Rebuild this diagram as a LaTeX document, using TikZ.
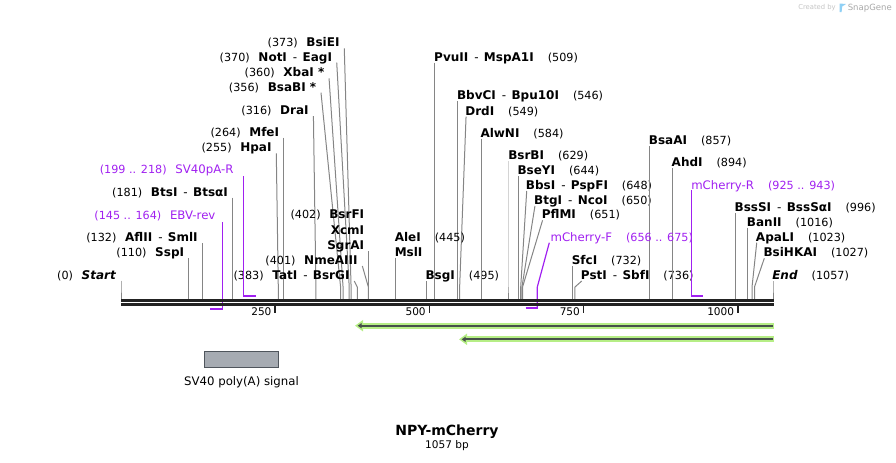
\documentclass[tikz,border=0pt]{standalone}
\usepackage{fontspec}
\setmainfont{DejaVu Sans}
\usetikzlibrary{arrows.meta,positioning}

\definecolor{primer}{HTML}{A020F0}
\definecolor{sitegray}{HTML}{858585}
\definecolor{bbdark}{HTML}{222222}
\definecolor{featgreen}{HTML}{B6EE86}
\definecolor{featdark}{HTML}{46504A}
\definecolor{polyafill}{HTML}{A6ABB2}
\definecolor{polyaedge}{HTML}{4F555C}
\definecolor{credit}{HTML}{C4C4C4}
\definecolor{creditdark}{HTML}{A8A8A8}
\definecolor{logoblue}{HTML}{8FD0F5}

\newcommand{\enz}[1]{\textbf{#1}}
\newcommand{\bploc}[1]{{\fontsize{8.4}{10}\selectfont(#1)}}
\newcommand{\esep}{\hspace{4.5pt}-\hspace{4pt}}
\newcommand{\gapl}{\hspace{6.5pt}}
\newcommand{\gapr}{\hspace{10.5pt}}

\begin{document}
\begin{tikzpicture}[x=0.75pt, y=-0.75pt
	, every node/.style={inner sep=0pt, font=\fontsize{9}{11}\selectfont}
	, siteline/.style={draw=sitegray, line width=0.75pt}
	, primerline/.style={draw=primer, line width=0.9pt}
	, primerbar/.style={draw=primer, line width=1.6pt}
	, primerlbl/.style={text=primer, font=\fontsize{8.8}{10}\selectfont}
	, backbone/.style={draw=bbdark, line width=2pt}
	, tickmark/.style={draw=bbdark, line width=1.1pt}
]
\useasboundingbox (0,0) rectangle (896,462);

% sites with labels on the left
\foreach [count=\i] \b/\dx/\ty/\txt in {
	0/0/274.5/{\bploc{0}\gapl\enz{\textit{Start}}}
	, 110/0/252/{\bploc{110}\gapl\enz{SspI}}
	, 132/0/237/{\bploc{132}\gapl\enz{AflII}\esep\enz{SmlI}}
	, 181/0/191.5/{\bploc{181}\gapl\enz{BtsI}\esep\enz{BtsαI}}
	, 255/-2/147.3/{\bploc{255}\gapl\enz{HpaI}}
	, 264/0/131.7/{\bploc{264}\gapl\enz{MfeI}}
	, 316/-2.5/110/{\bploc{316}\gapl\enz{DraI}}
	, 356/-19.6/86.7/{\bploc{356}\gapl\enz{BsaBI *}}
	, 360/-14/72.3/{\bploc{360}\gapl\enz{XbaI *}}
	, 370/-12.5/56.7/{\bploc{370}\gapl\enz{NotI}\esep\enz{EagI}}
	, 373/-6.8/42.3/{\bploc{373}\gapl\enz{BsiEI}}
	, 383/-3/275/{\bploc{383}\gapl\enz{TatI}\esep\enz{BsrGI}}
	, 401/-6/260/{\bploc{401}\gapl\enz{NmeAIII}}
	, 402/0/245/{\enz{SgrAI}}
}{
	\pgfmathsetmacro\sx{121+\b*0.61684}
	\pgfmathsetmacro\tx{\sx+(\dx)}
	\coordinate (s\i) at (\sx,299);
	\coordinate (t\i) at (\tx,\ty+6);
	\node[anchor=base east](l\i) at ([shift={(-4.5,-1.5)}]t\i) {\txt};
	\draw[siteline] (t\i) -- (\sx,287) -- (s\i);
}
\node[anchor=base east](l14b) at ([yshift=11.5pt]l14.base east) {\enz{XcmI}};
\node[anchor=base east](l14a) at ([yshift=11.5pt]l14b.base east) {\bploc{402}\gapl\enz{BsrFI}};

% sites with labels on the right
\foreach [count=\i] \b/\dx/\ty/\txt in {
	445/0/251.7/{\enz{MslI}}
	, 495/0/275/{\enz{BsgI}\gapr\bploc{495}}
	, 509/0/56.7/{\enz{PvuII}\esep\enz{MspA1I}\gapr\bploc{509}}
	, 546/0/95/{\enz{BbvCI}\esep\enz{Bpu10I}\gapr\bploc{546}}
	, 549/6.4/110.7/{\enz{DrdI}\gapr\bploc{549}}
	, 584/0/132.7/{\enz{AlwNI}\gapr\bploc{584}}
	, 629/0/155/{\enz{BsrBI}\gapr\bploc{629}}
	, 644/0/170/{\enz{BseYI}\gapr\bploc{644}}
	, 648/6/185/{\enz{BbsI}\esep\enz{PspFI}\gapr\bploc{648}}
	, 650/13/200/{\enz{BtgI}\esep\enz{NcoI}\gapr\bploc{650}}
	, 651/20/214.3/{\enz{PflMI}\gapr\bploc{651}}
	, 732/0/260/{\enz{SfcI}\gapr\bploc{732}}
	, 736/6.7/275/{\enz{PstI}\esep\enz{SbfI}\gapr\bploc{736}}
	, 857/0/140/{\enz{BsaAI}\gapr\bploc{857}}
	, 894/0/162.3/{\enz{AhdI}\gapr\bploc{894}}
	, 996/0/207.3/{\enz{BssSI}\esep\enz{BssSαI}\gapr\bploc{996}}
	, 1016/0/221.7/{\enz{BanII}\gapr\bploc{1016}}
	, 1023/4.7/236.7/{\enz{ApaLI}\gapr\bploc{1023}}
	, 1027/9.8/252.3/{\enz{BsiHKAI}\gapr\bploc{1027}}
	, 1057/0/275/{\enz{\textit{End}}\gapr\bploc{1057}}
}{
	\pgfmathsetmacro\sx{121+\b*0.61684}
	\pgfmathsetmacro\tx{\sx+(\dx)}
	\coordinate (rs\i) at (\sx,299);
	\coordinate (rt\i) at (\tx,\ty+6);
	\node[anchor=base west](r\i) at ([shift={(-1,-1.5)}]rt\i) {\txt};
	\draw[siteline] (rt\i) -- (\sx,287) -- (rs\i);
}
\node[anchor=base west](r1a) at ([yshift=10.8pt]r1.base west) {\enz{AleI}\gapr\bploc{445}};

% primers
\coordinate (p1a) at (210.4,309);
\coordinate (p1b) at (222.2,309);
\coordinate (p1t) at (222.2,221.7);
\draw[primerbar] (p1a) -- ([xshift=0.4pt]p1b);
\draw[primerline] (p1b) -- (p1t);
\node[primerlbl, anchor=base east](pl1) at ([shift={(-6.5,-2)}]p1t) {\bploc{145 .. 164}\gapl EBV-rev};

\coordinate (p2a) at (243.7,296);
\coordinate (p2b) at (255.5,296);
\coordinate (p2t) at (243.7,175.7);
\draw[primerbar] ([xshift=-0.4pt]p2a) -- (p2b);
\draw[primerline] (p2a) -- (p2t);
\node[primerlbl, anchor=base east](pl2) at ([shift={(-10,-2)}]p2t) {\bploc{199 .. 218}\gapl SV40pA-R};

\coordinate (p3a) at (525.6,308);
\coordinate (p3b) at (537.3,308);
\coordinate (p3t) at (549.3,242.7);
\draw[primerbar] (p3a) -- ([xshift=0.4pt]p3b);
\draw[primerline] (p3b) -- (537.3,287) -- (p3t);
\node[primerlbl, anchor=base west](pl3) at ([shift={(1,-1.5)}]p3t) {mCherry-F\gapr\bploc{656 .. 675}};

\coordinate (p4a) at (691.5,296);
\coordinate (p4b) at (702.6,296);
\coordinate (p4t) at (691.5,190);
\draw[primerbar] ([xshift=-0.4pt]p4a) -- (p4b);
\draw[primerline] (p4a) -- (p4t);
\node[primerlbl, anchor=base west](pl4) at ([shift={(-0.5,-0.5)}]p4t) {mCherry-R\gapr\bploc{925 .. 943}};

% backbone and ruler
\draw[backbone] (121,300.3) -- (773.5,300.3);
\draw[backbone] (121,304.7) -- (773.5,304.7);
\foreach \t in {250,500,750,1000}{
	\pgfmathsetmacro\kx{121+\t*0.61684}
	\draw[tickmark] (\kx,305.5) -- (\kx,312.8);
	\node[anchor=east, font=\fontsize{7.9}{9}\selectfont](k\t) at (\kx-3.5,312) {\t};
}

% features
\foreach [count=\i] \tip/\fy in {355/325.7, 459/339.3}{
	\coordinate (fe\i) at (774,\fy);
	\coordinate (ft\i) at (\tip,\fy);
	\draw[featgreen, line width=4.4pt, -{Triangle[length=6pt,width=8.2pt]}] (fe\i) -- (ft\i);
	\draw[featdark, line width=1.5pt, -{Triangle[length=3pt,width=3.8pt]}] ([xshift=-1pt]fe\i) -- ([xshift=2pt]ft\i);
}
\node[draw=polyaedge, fill=polyafill, line width=0.75pt, minimum width=56.2pt, minimum height=12pt](polya) at (241.5,359.2) {};
\node[below=6.5pt of polya, font=\fontsize{8.8}{10}\selectfont](polyalbl) {SV40 poly(A) signal};

% title
\node[anchor=base, font=\fontsize{10.5}{12}\selectfont\bfseries](title) at (447,435.8) {NPY-mCherry};
\node[anchor=base, font=\fontsize{7.9}{9}\selectfont](size) at (447,448.8) {1057 bp};

% credit
\node[anchor=base east, text=credit, font=\fontsize{5.1}{6}\selectfont](made) at (836,9.8) {Created by};
\fill[logoblue] (839.5,12) -- (841.6,12) -- (842.2,6.5) -- (846,4) -- (839.5,3.5) -- cycle;
\node[anchor=base west, text=creditdark, font=\fontsize{6.4}{8}\selectfont](sg) at (847.5,10.5) {SnapGene};
\end{tikzpicture}
\end{document}
